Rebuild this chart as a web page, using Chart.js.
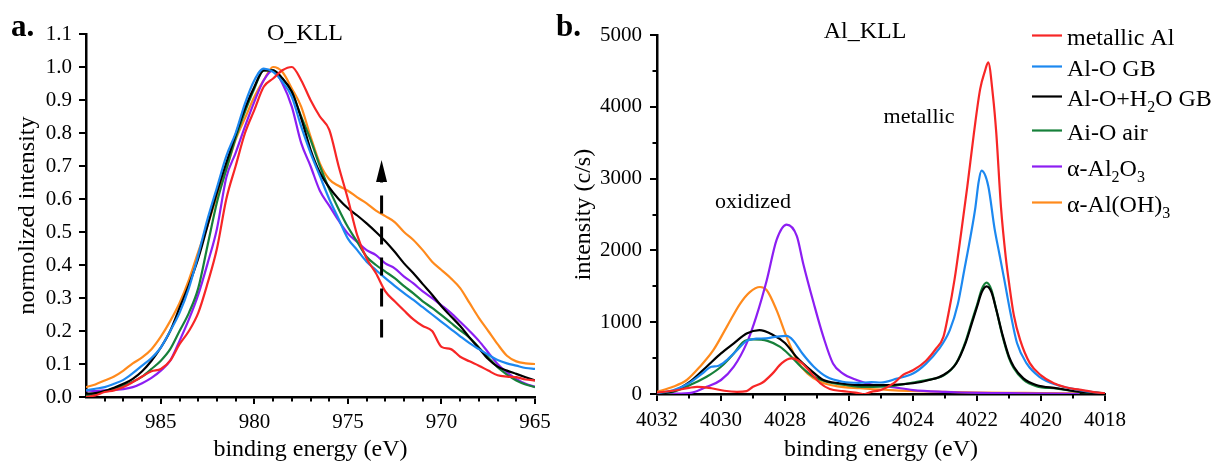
<!DOCTYPE html>
<html>
<head>
<meta charset="utf-8">
<title>O KLL and Al KLL Auger spectra</title>
<script src="https://cdn.jsdelivr.net/npm/chart.js@4.4.1/dist/chart.umd.min.js"></script>
<style>
  html, body { margin: 0; padding: 0; background: #ffffff; }
  #wrap { position: relative; width: 1215px; height: 466px; overflow: hidden; }
  #cO  { position: absolute; left: 0;     top: 0; }
  #cAl { position: absolute; left: 548px; top: 0; }
</style>
</head>
<body>
<div id="wrap">
  <canvas id="cO" width="560" height="466"></canvas>
  <canvas id="cAl" width="667" height="466"></canvas>
</div>
<script>
// ---------- shared series styling ----------
const seriesNames  = ['metallic Al', 'Al-O GB', 'Al-O+H₂O GB', 'Ai-O air', 'α-Al₂O₃', 'α-Al(OH)₃'];
const seriesColors = ['#f72626', '#1c88f0', '#000000', '#16803a', '#8c1ef2', '#ff8a1c'];

// ---------- panel a: O KLL, normalized intensity ----------
const oEnergy = [989, 988.5, 988, 987.5, 987, 986.5, 986, 985.5, 985, 984.5,
                 984, 983.5, 983, 982.5, 982, 981.5, 981, 980.5, 980, 979.5,
                 979, 978.5, 978, 977.5, 977, 976.5, 976, 975.5, 975, 974.5,
                 974, 973.5, 973, 972.5, 972, 971.5, 971, 970.5, 970, 969.5,
                 969, 968.5, 968, 967.5, 967, 966.5, 966, 965.5, 965];

const oMetallicAl = [0.0, 0.005, 0.015, 0.02, 0.03, 0.045, 0.062, 0.078, 0.085, 0.11,
                     0.16, 0.2, 0.255, 0.345, 0.45, 0.6, 0.7, 0.8, 0.87, 0.94,
                     0.965, 0.99, 1.0, 0.96, 0.9, 0.85, 0.81, 0.7, 0.6, 0.49,
                     0.42, 0.375, 0.32, 0.29, 0.262, 0.235, 0.215, 0.2, 0.152, 0.145,
                     0.122, 0.108, 0.095, 0.08, 0.066, 0.062, 0.06, 0.053, 0.05];
const oAlOGB      = [0.02, 0.025, 0.03, 0.04, 0.052, 0.072, 0.095, 0.118, 0.15, 0.2,
                     0.255, 0.33, 0.43, 0.54, 0.635, 0.73, 0.8, 0.89, 0.96, 0.995,
                     0.985, 0.955, 0.91, 0.82, 0.74, 0.67, 0.6, 0.54, 0.48, 0.445,
                     0.41, 0.385, 0.36, 0.337, 0.315, 0.294, 0.272, 0.25, 0.228, 0.206,
                     0.184, 0.163, 0.145, 0.128, 0.112, 0.102, 0.095, 0.088, 0.085];
const oAlOH2OGB   = [0.01, 0.012, 0.018, 0.028, 0.04, 0.055, 0.078, 0.11, 0.15, 0.2,
                     0.27, 0.34, 0.42, 0.52, 0.62, 0.71, 0.795, 0.875, 0.94, 0.99,
                     0.99, 0.965, 0.925, 0.845, 0.75, 0.68, 0.635, 0.6, 0.572, 0.55,
                     0.526, 0.5, 0.472, 0.44, 0.405, 0.375, 0.342, 0.31, 0.275, 0.245,
                     0.215, 0.18, 0.148, 0.115, 0.092, 0.08, 0.07, 0.06, 0.05];
const oAiOAir     = [0.005, 0.01, 0.018, 0.026, 0.035, 0.046, 0.062, 0.085, 0.11, 0.145,
                     0.2, 0.255, 0.33, 0.46, 0.59, 0.69, 0.785, 0.865, 0.935, 0.99,
                     0.99, 0.965, 0.925, 0.85, 0.78, 0.7, 0.63, 0.57, 0.515, 0.47,
                     0.425, 0.4, 0.38, 0.36, 0.336, 0.314, 0.29, 0.27, 0.248, 0.225,
                     0.202, 0.18, 0.15, 0.12, 0.09, 0.068, 0.05, 0.038, 0.03];
const oAl2O3      = [0.02, 0.018, 0.02, 0.022, 0.024, 0.03, 0.042, 0.058, 0.08, 0.11,
                     0.17, 0.235, 0.31, 0.405, 0.51, 0.665, 0.74, 0.82, 0.895, 0.96,
                     0.99, 0.95, 0.88, 0.77, 0.7, 0.625, 0.58, 0.535, 0.495, 0.47,
                     0.445, 0.43, 0.405, 0.39, 0.365, 0.344, 0.32, 0.3, 0.278, 0.255,
                     0.228, 0.2, 0.17, 0.135, 0.1, 0.075, 0.055, 0.04, 0.031];
const oAlOH3      = [0.03, 0.038, 0.05, 0.062, 0.08, 0.102, 0.12, 0.145, 0.183, 0.23,
                     0.285, 0.355, 0.44, 0.52, 0.61, 0.69, 0.78, 0.845, 0.91, 0.96,
                     1.0, 0.985, 0.935, 0.88, 0.79, 0.708, 0.66, 0.64, 0.625, 0.605,
                     0.587, 0.565, 0.548, 0.53, 0.5, 0.476, 0.445, 0.41, 0.385, 0.36,
                     0.33, 0.285, 0.24, 0.2, 0.16, 0.125, 0.108, 0.102, 0.1];

const oTicksX      = [985, 980, 975, 970, 965];
const oMinorTicksX = [988, 987, 986, 984, 983, 982, 981, 979, 978, 977, 976,
                      974, 973, 972, 971, 969, 968, 967, 966];
const oTicksY      = [0, 0.1, 0.2, 0.3, 0.4, 0.5, 0.6, 0.7, 0.8, 0.9, 1.0, 1.1];

// ---------- panel b: Al KLL, counts per second ----------
const alMetallicE = [4032, 4031.5, 4031, 4030.75, 4030.3, 4029.9, 4029.5, 4029.2, 4029, 4028.7,
                     4028.4, 4028.1, 4027.8, 4027.5, 4027.2, 4026.9, 4026.6, 4026.2, 4025.8, 4025.55,
                     4025.3, 4025, 4024.6, 4024.3, 4024, 4023.6, 4023.3, 4023.05, 4022.9, 4022.7,
                     4022.5, 4022.3, 4022.1, 4021.9, 4021.75, 4021.65, 4021.5, 4021.4, 4021.25, 4021.1,
                     4021, 4020.85, 4020.65, 4020.35, 4020, 4019.6, 4019.2, 4018.8, 4018.4, 4018];
const alMetallicI = [20, 45, 85, 100, 80, 45, 30, 40, 100, 160,
                     280, 430, 495, 440, 300, 150, 70, 40, 20, -5,
                     30, 55, 150, 270, 330, 460, 620, 795, 1100, 1600,
                     2230, 2900, 3620, 4250, 4500, 4620, 4150, 3650, 2600, 1900,
                     1550, 1100, 750, 430, 260, 150, 90, 60, 30, 10];

const alOGBE = [4032, 4031.5, 4031, 4030.6, 4030.3, 4030.1, 4029.85, 4029.5, 4029.2, 4028.9,
                4028.6, 4028.25, 4027.95, 4027.75, 4027.45, 4027.1, 4026.7, 4026.2, 4025.7, 4025.3,
                4025, 4024.5, 4024, 4023.6, 4023.2, 4022.85, 4022.6, 4022.4, 4022.2, 4022.05,
                4021.95, 4021.86, 4021.65, 4021.45, 4021.3, 4021.15, 4020.95, 4020.75, 4020.45, 4020.05,
                4019.5, 4018.8, 4018];
const alOGBI = [10, 50, 150, 280, 380, 390, 460, 610, 740, 770,
                775, 800, 810, 750, 560, 380, 240, 170, 155, 165,
                160, 215, 285, 420, 620, 890, 1250, 1720, 2200, 2600,
                2950, 3110, 2900, 2300, 1950, 1600, 1120, 710, 426, 240,
                125, 55, 5];

const alOH2OE = [4032, 4031.5, 4031, 4030.45, 4030, 4029.6, 4029.2, 4028.8, 4028.4, 4028,
                 4027.65, 4027.2, 4026.8, 4026.3, 4025.7, 4025, 4024, 4023.5, 4023.05, 4022.65,
                 4022.35, 4022.15, 4022, 4021.85, 4021.7, 4021.55, 4021.4, 4021.2, 4021, 4020.85,
                 4020.55, 4020.15, 4019.5, 4018.8, 4018];
const alOH2OI = [10, 40, 160, 380, 565, 705, 843, 890, 830, 710,
                 520, 333, 195, 150, 125, 125, 150, 195, 265, 425,
                 720, 1000, 1213, 1420, 1500, 1420, 1180, 820, 520, 380,
                 218, 125, 80, 32, 10];

const alOAirE = [4032, 4031.5, 4030.85, 4030.45, 4030, 4029.6, 4029.3, 4029, 4028.55, 4028.15,
                 4027.85, 4027.5, 4027.1, 4026.7, 4026.1, 4025.5, 4024.7, 4024, 4023.5, 4023.05,
                 4022.65, 4022.35, 4022.15, 4022, 4021.85, 4021.7, 4021.55, 4021.4, 4021.2, 4021,
                 4020.85, 4020.55, 4020.15, 4019.5, 4018.8, 4018];
const alOAirI = [10, 30, 150, 240, 380, 565, 727, 760, 740, 657,
                 540, 380, 240, 170, 125, 100, 110, 160, 200, 255,
                 430, 740, 1030, 1240, 1460, 1550, 1450, 1180, 800, 500,
                 360, 200, 110, 75, 30, 10];

const alAl2O3E = [4032, 4031.4, 4030.9, 4030.45, 4030, 4029.6, 4029.2, 4028.9, 4028.57, 4028.26,
                  4027.95, 4027.63, 4027.43, 4027.1, 4026.8, 4026.5, 4026.2, 4025.76, 4025.24, 4024.7,
                  4024, 4023, 4021.9, 4020.5, 4019.5, 4018.8];
const alAl2O3I = [10, 5, 20, 100, 195, 380, 705, 1075, 1585, 2150,
                  2360, 2200, 1815, 1260, 795, 425, 287, 195, 125, 100,
                  55, 30, 15, 10, 5, 0];

const alAlOH3E = [4032, 4031.5, 4031.07, 4030.66, 4030.24, 4029.82, 4029.4, 4029.1, 4028.78, 4028.57,
                  4028.26, 4027.95, 4027.63, 4027.3, 4026.9, 4026.4, 4025.66, 4024.7, 4023.5, 4021.9,
                  4020.5, 4019.2, 4018.8];
const alAlOH3I = [30, 100, 195, 380, 610, 935, 1260, 1420, 1490, 1445,
                  1165, 795, 472, 287, 170, 110, 80, 55, 35, 20,
                  15, 10, 10];

const alTicksX      = [4032, 4030, 4028, 4026, 4024, 4022, 4020, 4018];
const alMinorTicksX = [4031, 4029, 4027, 4025, 4023, 4021, 4019];
const alTicksY      = [0, 1000, 2000, 3000, 4000, 5000];
const alMinorTicksY = [500, 1500, 2500, 3500, 4500];

// ---------- drawing helpers ----------
const SERIF = "'Liberation Serif', 'Times New Roman', serif";

const minorTicks = {
  id: 'minorTicks',
  afterDraw(chart, args, opts) {
    const { ctx, chartArea } = chart;
    ctx.save();
    ctx.strokeStyle = '#000';
    ctx.lineWidth = 2;
    ctx.beginPath();
    (opts.x || []).forEach(v => {
      const px = Math.round(chart.scales.x.getPixelForValue(v));
      ctx.moveTo(px, chartArea.bottom);
      ctx.lineTo(px, chartArea.bottom + 4.5);
    });
    (opts.y || []).forEach(v => {
      const py = Math.round(chart.scales.y.getPixelForValue(v));
      ctx.moveTo(chartArea.left, py);
      ctx.lineTo(chartArea.left - 4.5, py);
    });
    ctx.stroke();
    ctx.restore();
  }
};

const panelText = {
  id: 'panelText',
  afterDraw(chart, args, opts) {
    const ctx = chart.ctx;
    (opts.items || []).forEach(it => {
      ctx.save();
      ctx.font = it.font;
      ctx.fillStyle = '#000';
      ctx.textAlign = it.align || 'center';
      ctx.textBaseline = 'alphabetic';
      ctx.fillText(it.text, it.x, it.y);
      ctx.restore();
    });
  }
};

// dashed arrow drawn in data coordinates
const trendArrow = {
  id: 'trendArrow',
  afterDatasetsDraw(chart, args, opts) {
    if (!opts.energy) return;
    const { ctx } = chart;
    const x = chart.scales.x.getPixelForValue(opts.energy);
    const y0 = chart.scales.y.getPixelForValue(opts.from);
    const y1 = chart.scales.y.getPixelForValue(opts.to);
    const head = 22;
    ctx.save();
    ctx.strokeStyle = '#000';
    ctx.fillStyle = '#000';
    ctx.lineWidth = 3;
    ctx.setLineDash([18, 13]);
    ctx.beginPath();
    ctx.moveTo(x, y0);
    ctx.lineTo(x, y1 + head);
    ctx.stroke();
    ctx.setLineDash([]);
    ctx.beginPath();
    ctx.moveTo(x, y1);
    ctx.lineTo(x - 5.5, y1 + head);
    ctx.lineTo(x + 5.5, y1 + head);
    ctx.closePath();
    ctx.fill();
    ctx.restore();
  }
};

// legend with real subscript digits
function drawRichText(ctx, text, x, y, size) {
  const runs = [];
  for (const ch of text) {
    const c = ch.codePointAt(0);
    const sub = c >= 0x2080 && c <= 0x2089;
    const t = sub ? String(c - 0x2080) : ch;
    if (runs.length && runs[runs.length - 1].sub === sub) runs[runs.length - 1].t += t;
    else runs.push({ sub, t });
  }
  let cx = x;
  runs.forEach(r => {
    ctx.font = (r.sub ? Math.round(size * 0.68) : size) + 'px ' + SERIF;
    ctx.fillText(r.t, cx, r.sub ? y + 6 : y);
    cx += ctx.measureText(r.t).width;
  });
}

const sideLegend = {
  id: 'sideLegend',
  afterDraw(chart, args, opts) {
    const ctx = chart.ctx;
    ctx.save();
    ctx.textAlign = 'left';
    ctx.textBaseline = 'alphabetic';
    ctx.fillStyle = '#000';
    chart.data.datasets.forEach((ds, i) => {
      const base = opts.baselines[i];
      ctx.strokeStyle = ds.borderColor;
      ctx.lineWidth = 2.2;
      ctx.beginPath();
      ctx.moveTo(opts.x, base - 9.5);
      ctx.lineTo(opts.x + 30, base - 9.5);
      ctx.stroke();
      drawRichText(ctx, ds.label, opts.x + 35, base, opts.size);
    });
    ctx.restore();
  }
};

function makeDatasets(list) {
  return list.map(s => ({
    label: s.name,
    data: s.e.map((e, i) => ({ x: e, y: s.v[i] })),
    borderColor: s.color,
    backgroundColor: s.color,
    borderWidth: 2.2,
    pointRadius: 0,
    fill: false,
    cubicInterpolationMode: 'monotone',
    borderJoinStyle: 'round'
  }));
}

function axisStyle(extra) {
  return Object.assign({
    type: 'linear',
    grid: { drawOnChartArea: false, drawTicks: true, tickLength: 7, lineWidth: 2, color: '#000' },
    border: { display: true, color: '#000', width: 2.5 },
    ticks: { color: '#000', font: { family: SERIF, size: 21 }, autoSkip: false, maxRotation: 0 }
  }, extra);
}

// ---------- chart a ----------
const oValues = [oMetallicAl, oAlOGB, oAlOH2OGB, oAiOAir, oAl2O3, oAlOH3];
new Chart(document.getElementById('cO'), {
  type: 'line',
  data: {
    datasets: makeDatasets(oValues.map((v, i) => ({ name: seriesNames[i], color: seriesColors[i], e: oEnergy, v })))
  },
  options: {
    responsive: false,
    animation: false,
    events: [],
    layout: { padding: { left: 0, right: 25, top: 34, bottom: 0 } },
    plugins: {
      legend: { display: false },
      tooltip: { enabled: false },
      minorTicks: { x: oMinorTicksX },
      trendArrow: { energy: 973.2, from: 0.18, to: 0.718 },
      panelText: {
        items: [
          { text: 'a.', x: 11, y: 36, font: 'bold 31px ' + SERIF, align: 'left' },
          { text: 'O_KLL', x: 305, y: 39.5, font: '24px ' + SERIF }
        ]
      }
    },
    scales: {
      x: axisStyle({
        reverse: true, min: 965, max: 989,
        afterFit: s => { s.height = 69; },
        afterBuildTicks: s => { s.ticks = oTicksX.map(v => ({ value: v })); },
        ticks: { color: '#000', font: { family: SERIF, size: 21 }, padding: 6, autoSkip: false, maxRotation: 0 },
        title: { display: true, text: 'binding energy (eV)', color: '#000', font: { family: SERIF, size: 24 }, padding: { top: 0, bottom: 1.5 } }
      }),
      y: axisStyle({
        min: 0, max: 1.1,
        afterFit: s => { s.width = 86; },
        afterBuildTicks: s => { s.ticks = oTicksY.map(v => ({ value: v })); },
        ticks: { color: '#000', font: { family: SERIF, size: 21 }, padding: 7, callback: v => Number(v).toFixed(1) },
        title: { display: true, text: 'normolized intensity', color: '#000', font: { family: SERIF, size: 24 }, padding: { top: 13, bottom: 0 } }
      })
    }
  },
  plugins: [minorTicks, trendArrow, panelText]
});

// ---------- chart b ----------
const alSeries = [
  { e: alMetallicE, v: alMetallicI },
  { e: alOGBE,      v: alOGBI },
  { e: alOH2OE,     v: alOH2OI },
  { e: alOAirE,     v: alOAirI },
  { e: alAl2O3E,    v: alAl2O3I },
  { e: alAlOH3E,    v: alAlOH3I }
];
new Chart(document.getElementById('cAl'), {
  type: 'line',
  data: {
    datasets: makeDatasets(alSeries.map((s, i) => ({ name: seriesNames[i], color: seriesColors[i], e: s.e, v: s.v })))
  },
  options: {
    responsive: false,
    animation: false,
    events: [],
    layout: { padding: { left: 0, right: 110, top: 35, bottom: 0 } },
    plugins: {
      legend: { display: false },
      tooltip: { enabled: false },
      minorTicks: { x: alMinorTicksX, y: alMinorTicksY },
      sideLegend: { x: 484, size: 24, baselines: [45, 76, 106, 140, 176, 212] },
      panelText: {
        items: [
          { text: 'b.', x: 8, y: 36, font: 'bold 31px ' + SERIF, align: 'left' },
          { text: 'Al_KLL', x: 317, y: 38, font: '24px ' + SERIF },
          { text: 'metallic', x: 371, y: 123, font: '22px ' + SERIF },
          { text: 'oxidized', x: 205, y: 208, font: '22px ' + SERIF }
        ]
      }
    },
    scales: {
      x: axisStyle({
        reverse: true, min: 4018, max: 4032,
        afterFit: s => { s.height = 72; },
        afterBuildTicks: s => { s.ticks = alTicksX.map(v => ({ value: v })); },
        ticks: { color: '#000', font: { family: SERIF, size: 21 }, padding: 7, autoSkip: false, maxRotation: 0, callback: v => String(v) },
        title: { display: true, text: 'binding energy (eV)', color: '#000', font: { family: SERIF, size: 24 }, padding: { top: 0, bottom: 1.5 } }
      }),
      y: axisStyle({
        min: 0, max: 5000,
        afterFit: s => { s.width = 109; },
        afterBuildTicks: s => { s.ticks = alTicksY.map(v => ({ value: v })); },
        ticks: { color: '#000', font: { family: SERIF, size: 21 }, padding: 8, callback: v => String(v) },
        title: { display: true, text: 'intensity (c/s)', color: '#000', font: { family: SERIF, size: 24 }, padding: { top: 21.5, bottom: 0 } }
      })
    }
  },
  plugins: [minorTicks, sideLegend, panelText]
});
</script>
</body>
</html>
